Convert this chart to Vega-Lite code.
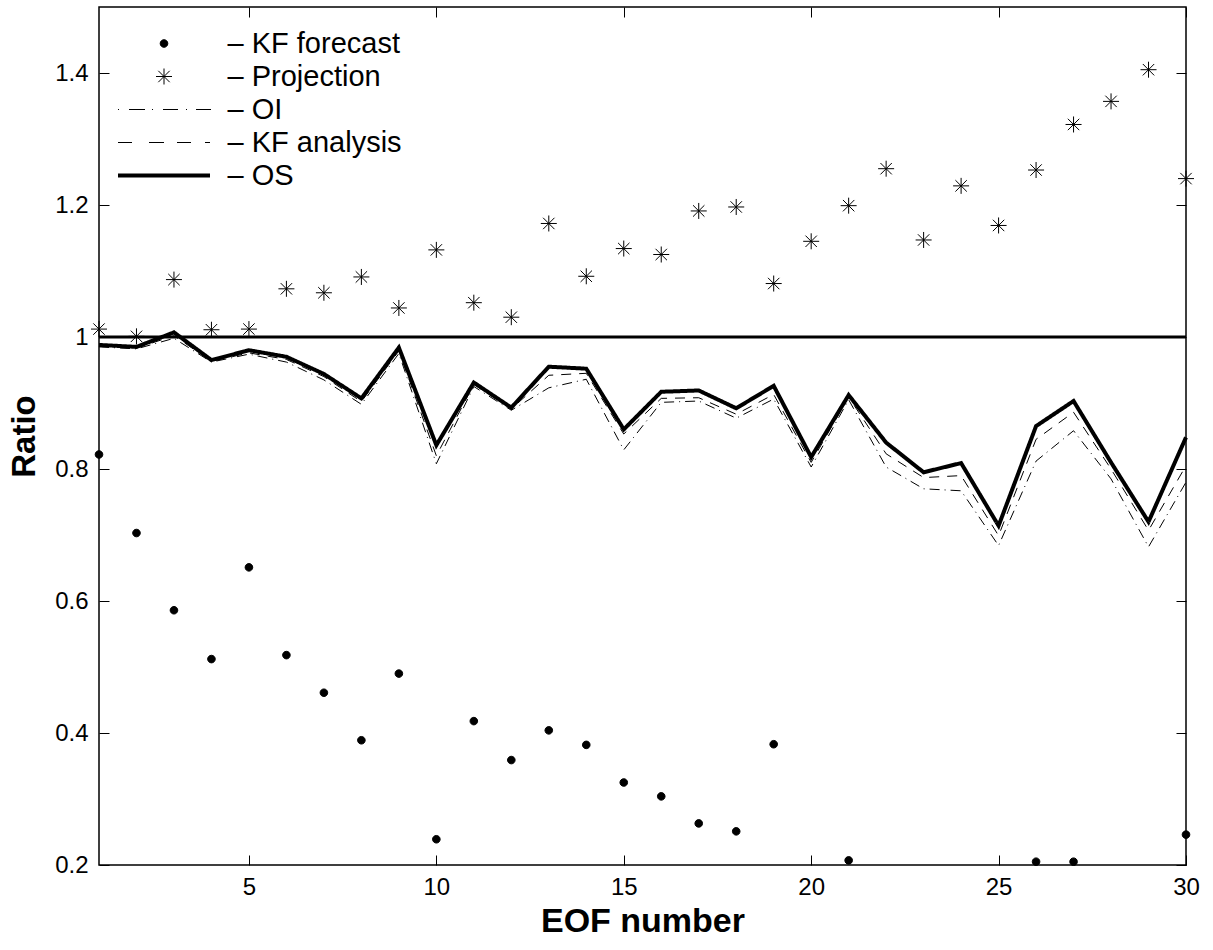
{
  "$schema": "https://vega.github.io/schema/vega-lite/v6.json",
  "width": 1087,
  "height": 858,
  "autosize": {"type": "none"},
  "padding": {"left": 99, "top": 7, "right": 27, "bottom": 85},
  "background": "white",
  "config": {
    "font": "Liberation Sans",
    "view": {"stroke": "black", "strokeWidth": 1.5},
    "axis": {"grid": false, "labelColor": "black", "titleColor": "black", "tickColor": "black", "domainColor": "black", "labelFlush": false, "labelOverlap": false}
  },
  "datasets": {
    "lines": [
      {"eof": 1, "series": "OI", "ratio": 0.985}, {"eof": 2, "series": "OI", "ratio": 0.982}, {"eof": 3, "series": "OI", "ratio": 0.998}, {"eof": 4, "series": "OI", "ratio": 0.962}, {"eof": 5, "series": "OI", "ratio": 0.974}, {"eof": 6, "series": "OI", "ratio": 0.962}, {"eof": 7, "series": "OI", "ratio": 0.935}, {"eof": 8, "series": "OI", "ratio": 0.898}, {"eof": 9, "series": "OI", "ratio": 0.975}, {"eof": 10, "series": "OI", "ratio": 0.808}, {"eof": 11, "series": "OI", "ratio": 0.925}, {"eof": 12, "series": "OI", "ratio": 0.889}, {"eof": 13, "series": "OI", "ratio": 0.923}, {"eof": 14, "series": "OI", "ratio": 0.936}, {"eof": 15, "series": "OI", "ratio": 0.829}, {"eof": 16, "series": "OI", "ratio": 0.901}, {"eof": 17, "series": "OI", "ratio": 0.903}, {"eof": 18, "series": "OI", "ratio": 0.877}, {"eof": 19, "series": "OI", "ratio": 0.906}, {"eof": 20, "series": "OI", "ratio": 0.803}, {"eof": 21, "series": "OI", "ratio": 0.905}, {"eof": 22, "series": "OI", "ratio": 0.803}, {"eof": 23, "series": "OI", "ratio": 0.770}, {"eof": 24, "series": "OI", "ratio": 0.767}, {"eof": 25, "series": "OI", "ratio": 0.684}, {"eof": 26, "series": "OI", "ratio": 0.812}, {"eof": 27, "series": "OI", "ratio": 0.858}, {"eof": 28, "series": "OI", "ratio": 0.785}, {"eof": 29, "series": "OI", "ratio": 0.682}, {"eof": 30, "series": "OI", "ratio": 0.780},
      {"eof": 1, "series": "KF analysis", "ratio": 0.986}, {"eof": 2, "series": "KF analysis", "ratio": 0.983}, {"eof": 3, "series": "KF analysis", "ratio": 1.002}, {"eof": 4, "series": "KF analysis", "ratio": 0.963}, {"eof": 5, "series": "KF analysis", "ratio": 0.976}, {"eof": 6, "series": "KF analysis", "ratio": 0.966}, {"eof": 7, "series": "KF analysis", "ratio": 0.940}, {"eof": 8, "series": "KF analysis", "ratio": 0.902}, {"eof": 9, "series": "KF analysis", "ratio": 0.979}, {"eof": 10, "series": "KF analysis", "ratio": 0.820}, {"eof": 11, "series": "KF analysis", "ratio": 0.928}, {"eof": 12, "series": "KF analysis", "ratio": 0.891}, {"eof": 13, "series": "KF analysis", "ratio": 0.942}, {"eof": 14, "series": "KF analysis", "ratio": 0.945}, {"eof": 15, "series": "KF analysis", "ratio": 0.853}, {"eof": 16, "series": "KF analysis", "ratio": 0.907}, {"eof": 17, "series": "KF analysis", "ratio": 0.908}, {"eof": 18, "series": "KF analysis", "ratio": 0.883}, {"eof": 19, "series": "KF analysis", "ratio": 0.913}, {"eof": 20, "series": "KF analysis", "ratio": 0.810}, {"eof": 21, "series": "KF analysis", "ratio": 0.909}, {"eof": 22, "series": "KF analysis", "ratio": 0.823}, {"eof": 23, "series": "KF analysis", "ratio": 0.787}, {"eof": 24, "series": "KF analysis", "ratio": 0.790}, {"eof": 25, "series": "KF analysis", "ratio": 0.699}, {"eof": 26, "series": "KF analysis", "ratio": 0.845}, {"eof": 27, "series": "KF analysis", "ratio": 0.886}, {"eof": 28, "series": "KF analysis", "ratio": 0.800}, {"eof": 29, "series": "KF analysis", "ratio": 0.707}, {"eof": 30, "series": "KF analysis", "ratio": 0.805},
      {"eof": 1, "series": "OS", "ratio": 0.988}, {"eof": 2, "series": "OS", "ratio": 0.985}, {"eof": 3, "series": "OS", "ratio": 1.007}, {"eof": 4, "series": "OS", "ratio": 0.965}, {"eof": 5, "series": "OS", "ratio": 0.980}, {"eof": 6, "series": "OS", "ratio": 0.970}, {"eof": 7, "series": "OS", "ratio": 0.944}, {"eof": 8, "series": "OS", "ratio": 0.907}, {"eof": 9, "series": "OS", "ratio": 0.984}, {"eof": 10, "series": "OS", "ratio": 0.836}, {"eof": 11, "series": "OS", "ratio": 0.931}, {"eof": 12, "series": "OS", "ratio": 0.893}, {"eof": 13, "series": "OS", "ratio": 0.955}, {"eof": 14, "series": "OS", "ratio": 0.952}, {"eof": 15, "series": "OS", "ratio": 0.860}, {"eof": 16, "series": "OS", "ratio": 0.917}, {"eof": 17, "series": "OS", "ratio": 0.919}, {"eof": 18, "series": "OS", "ratio": 0.892}, {"eof": 19, "series": "OS", "ratio": 0.926}, {"eof": 20, "series": "OS", "ratio": 0.818}, {"eof": 21, "series": "OS", "ratio": 0.912}, {"eof": 22, "series": "OS", "ratio": 0.840}, {"eof": 23, "series": "OS", "ratio": 0.795}, {"eof": 24, "series": "OS", "ratio": 0.809}, {"eof": 25, "series": "OS", "ratio": 0.714}, {"eof": 26, "series": "OS", "ratio": 0.865}, {"eof": 27, "series": "OS", "ratio": 0.903}, {"eof": 28, "series": "OS", "ratio": 0.810}, {"eof": 29, "series": "OS", "ratio": 0.720}, {"eof": 30, "series": "OS", "ratio": 0.848}
    ],
    "points": [
      {"eof": 1, "series": "KF forecast", "ratio": 0.822}, {"eof": 2, "series": "KF forecast", "ratio": 0.703}, {"eof": 3, "series": "KF forecast", "ratio": 0.586}, {"eof": 4, "series": "KF forecast", "ratio": 0.512}, {"eof": 5, "series": "KF forecast", "ratio": 0.651}, {"eof": 6, "series": "KF forecast", "ratio": 0.518}, {"eof": 7, "series": "KF forecast", "ratio": 0.461}, {"eof": 8, "series": "KF forecast", "ratio": 0.389}, {"eof": 9, "series": "KF forecast", "ratio": 0.490}, {"eof": 10, "series": "KF forecast", "ratio": 0.239}, {"eof": 11, "series": "KF forecast", "ratio": 0.418}, {"eof": 12, "series": "KF forecast", "ratio": 0.359}, {"eof": 13, "series": "KF forecast", "ratio": 0.404}, {"eof": 14, "series": "KF forecast", "ratio": 0.382}, {"eof": 15, "series": "KF forecast", "ratio": 0.325}, {"eof": 16, "series": "KF forecast", "ratio": 0.304}, {"eof": 17, "series": "KF forecast", "ratio": 0.263}, {"eof": 18, "series": "KF forecast", "ratio": 0.251}, {"eof": 19, "series": "KF forecast", "ratio": 0.383}, {"eof": 21, "series": "KF forecast", "ratio": 0.207}, {"eof": 26, "series": "KF forecast", "ratio": 0.205}, {"eof": 27, "series": "KF forecast", "ratio": 0.205}, {"eof": 30, "series": "KF forecast", "ratio": 0.246},
      {"eof": 1, "series": "Projection", "ratio": 1.012}, {"eof": 2, "series": "Projection", "ratio": 1.001}, {"eof": 3, "series": "Projection", "ratio": 1.087}, {"eof": 4, "series": "Projection", "ratio": 1.011}, {"eof": 5, "series": "Projection", "ratio": 1.012}, {"eof": 6, "series": "Projection", "ratio": 1.073}, {"eof": 7, "series": "Projection", "ratio": 1.067}, {"eof": 8, "series": "Projection", "ratio": 1.091}, {"eof": 9, "series": "Projection", "ratio": 1.044}, {"eof": 10, "series": "Projection", "ratio": 1.132}, {"eof": 11, "series": "Projection", "ratio": 1.052}, {"eof": 12, "series": "Projection", "ratio": 1.030}, {"eof": 13, "series": "Projection", "ratio": 1.172}, {"eof": 14, "series": "Projection", "ratio": 1.092}, {"eof": 15, "series": "Projection", "ratio": 1.134}, {"eof": 16, "series": "Projection", "ratio": 1.125}, {"eof": 17, "series": "Projection", "ratio": 1.191}, {"eof": 18, "series": "Projection", "ratio": 1.197}, {"eof": 19, "series": "Projection", "ratio": 1.081}, {"eof": 20, "series": "Projection", "ratio": 1.145}, {"eof": 21, "series": "Projection", "ratio": 1.199}, {"eof": 22, "series": "Projection", "ratio": 1.255}, {"eof": 23, "series": "Projection", "ratio": 1.147}, {"eof": 24, "series": "Projection", "ratio": 1.229}, {"eof": 25, "series": "Projection", "ratio": 1.169}, {"eof": 26, "series": "Projection", "ratio": 1.253}, {"eof": 27, "series": "Projection", "ratio": 1.322}, {"eof": 28, "series": "Projection", "ratio": 1.357}, {"eof": 29, "series": "Projection", "ratio": 1.405}, {"eof": 30, "series": "Projection", "ratio": 1.240}
    ],
    "unity": [
      {"eof": 1, "ratio": 1}, {"eof": 30, "ratio": 1}
    ]
  },
  "resolve": {"axis": {"x": "independent", "y": "independent"}},
  "layer": [
    {
      "data": {"name": "lines"},
      "mark": {"type": "line", "color": "black", "strokeJoin": "miter"},
      "encoding": {
        "x": {"field": "eof", "type": "quantitative", "scale": {"domain": [1, 30], "nice": false, "zero": false},
          "axis": {"orient": "bottom", "values": [5, 10, 15, 20, 25, 30], "ticks": false, "domain": false, "labelFontSize": 24, "labelPadding": 10, "title": "EOF number", "titleFontSize": 34, "titleFontWeight": "bold", "titlePadding": 5}},
        "y": {"field": "ratio", "type": "quantitative", "scale": {"domain": [0.2, 1.5], "nice": false, "zero": false},
          "axis": {"orient": "left", "values": [0.2, 0.4, 0.6, 0.8, 1, 1.2, 1.4], "format": "~g", "ticks": false, "domain": false, "labelFontSize": 24, "labelPadding": 11, "title": "Ratio", "titleFontSize": 33, "titleFontWeight": "bold", "titlePadding": 13}},
        "strokeDash": {"field": "series", "type": "nominal", "scale": {"domain": ["OI", "KF analysis", "OS"], "range": [[10, 5, 1, 5], [10, 8], [1, 0]]}, "legend": null},
        "strokeWidth": {"condition": {"test": "datum.series === 'OS'", "value": 4}, "value": 1}
      }
    },
    {
      "data": {"name": "points"},
      "mark": {"type": "point", "size": 4, "filled": false, "opacity": 1},
      "encoding": {
        "x": {"field": "eof", "type": "quantitative", "scale": {"domain": [1, 30], "nice": false, "zero": false},
          "axis": {"orient": "bottom", "offset": -10, "tickSize": 10, "values": [5, 10, 15, 20, 25, 30], "labels": false, "domain": false, "title": null}},
        "y": {"field": "ratio", "type": "quantitative", "scale": {"domain": [0.2, 1.5], "nice": false, "zero": false},
          "axis": {"orient": "left", "offset": -10, "tickSize": 10, "values": [0.2, 0.4, 0.6, 0.8, 1, 1.2, 1.4], "labels": false, "domain": false, "title": null}},
        "shape": {"field": "series", "type": "nominal",
          "scale": {"domain": ["KF forecast", "Projection", "OI", "KF analysis", "OS"],
            "range": [
              "M-3.8,0A3.8,3.8,0,1,0,3.8,0A3.8,3.8,0,1,0,-3.8,0Z",
              "M0,-8L0,8M-8,0L8,0M-5.7,-5.7L5.7,5.7M-5.7,5.7L5.7,-5.7",
              "M-46,0L-45,0M-35,0L-19,0M-12,0L-11,0M-1,0L14,0M22,0L23,0M32,0L47,0",
              "M-46,0L-32,0M-15,0L0,0M13,0L27,0M41,0L46,0",
              "M-46,0L46,0"
            ]},
          "legend": {
            "title": null, "orient": "none", "legendX": 0, "legendY": 22, "padding": 0,
            "symbolSize": 4, "symbolStrokeColor": "black", "symbolOffset": 50.5,
            "labelOffset": 49, "labelFont": "Liberation Sans", "labelFontSize": 29, "labelColor": "black", "labelLimit": 400,
            "rowPadding": 3, "labelExpr": "'– ' + datum.label"
          }
        },
        "fill": {"field": "series", "type": "nominal",
          "scale": {"domain": ["KF forecast", "Projection", "OI", "KF analysis", "OS"], "range": ["black", "transparent", "transparent", "transparent", "transparent"]}},
        "stroke": {"field": "series", "type": "nominal",
          "scale": {"domain": ["KF forecast", "Projection", "OI", "KF analysis", "OS"], "range": ["black", "black", "black", "black", "black"]}},
        "strokeWidth": {"field": "series", "type": "nominal",
          "scale": {"type": "ordinal", "domain": ["KF forecast", "Projection", "OI", "KF analysis", "OS"], "range": [1, 1, 1, 1, 4]}}
      }
    },
    {
      "data": {"name": "unity"},
      "mark": {"type": "line", "color": "black", "strokeWidth": 3},
      "encoding": {
        "x": {"field": "eof", "type": "quantitative", "scale": {"domain": [1, 30], "nice": false, "zero": false},
          "axis": {"orient": "top", "offset": -10, "tickSize": 10, "values": [5, 10, 15, 20, 25, 30], "labels": false, "domain": false, "title": null}},
        "y": {"field": "ratio", "type": "quantitative", "scale": {"domain": [0.2, 1.5], "nice": false, "zero": false},
          "axis": {"orient": "right", "offset": -10, "tickSize": 10, "values": [0.2, 0.4, 0.6, 0.8, 1, 1.2, 1.4], "labels": false, "domain": false, "title": null}}
      }
    }
  ]
}
